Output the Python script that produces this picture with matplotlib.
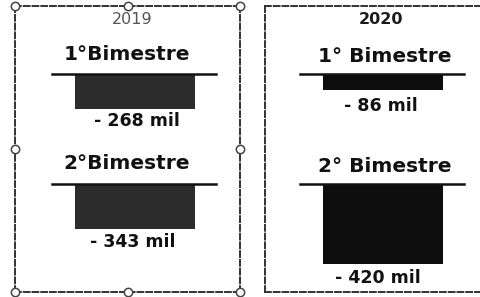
import matplotlib
matplotlib.use("Agg")
import matplotlib.pyplot as plt

# data (thousands of jobs lost)
years = ["2019", "2020"]
period_labels = [["1°Bimestre", "2°Bimestre"], ["1° Bimestre", "2° Bimestre"]]
losses = [[268, 343], [86, 420]]
value_labels = [["- 268 mil", "- 343 mil"], ["- 86 mil", "- 420 mil"]]

W, H = 480, 297
fig = plt.figure(figsize=(W / 100, H / 100), dpi=100)
fig.patch.set_facecolor("white")


def fx(x):
    return x / W


def fy(y):
    return 1 - y / H


def box(x0, y0, x1, y1):
    return [fx(x0), fy(y1), fx(x1) - fx(x0), fy(y0) - fy(y1)]


# panel layout in pixels
panels = [
    dict(frame=(15, 6, 240, 292), line=(52, 216), base=(74, 184), scale=0.13, year_x=132,
         titles=(127, 55, 163), bar_color="#2c2c2c", year_style=dict(color="#555555", fontweight="normal"),
         label_dx=(2, -2), label_dy=(-9, -10), handles=True),
    dict(frame=(265, 6, 490, 292), line=(300, 464), base=(74, 184), scale=0.19, year_x=381,
         titles=(385, 57, 167), bar_color="#0e0e0e", year_style=dict(color="#1a1a1a", fontweight="bold"),
         label_dx=(-2, -5), label_dy=(-11, -10), handles=False),
]

for p, year, periods, vals, vlabels in zip(panels, years, period_labels, losses, value_labels):
    x0, y0, x1, y1 = p["frame"]
    frame = fig.add_axes(box(x0, y0, x1, y1))
    frame.set_xlim(0, 1)
    frame.set_ylim(0, 1)
    frame.set_xticks([])
    frame.set_yticks([])
    frame.patch.set_alpha(0)
    for side in frame.spines.values():
        side.set_linestyle((0, (3, 1.5)))
        side.set_linewidth(1.4)
        side.set_color("#333333")
    if p["handles"]:
        hx = [0, 0.5, 1, 0, 1, 0, 0.5, 1]
        hy = [1, 1, 1, 0.5, 0.5, 0, 0, 0]
        frame.plot(hx, hy, "o", ms=6, mfc="white", mec="#444444", mew=1.1, clip_on=False, zorder=5)

    cx, ty1, ty2 = p["titles"]
    fig.text(fx(p["year_x"]), fy(20), year, ha="center", va="center", fontsize=11.5, **p["year_style"])

    lx0, lx1 = p["line"]
    for title_y, base_y, period, val, vlab, dx, dy in zip((ty1, ty2), p["base"], periods, vals, vlabels,
                                                          p["label_dx"], p["label_dy"]):
        fig.text(fx(cx), fy(title_y), period, ha="center", va="center",
                 fontsize=14.5, fontweight="bold", color="#111111")
        depth_px = 100
        ax = fig.add_axes(box(lx0, base_y, lx1, base_y + depth_px))
        ax.set_xlim(0, 1)
        ax.set_ylim(-depth_px / p["scale"], 0)
        ax.axis("off")
        ax.bar(0.505, -val, width=0.73, bottom=0, color=p["bar_color"], edgecolor="none", zorder=2)
        ax.axhline(0, color="#111111", lw=1.8, zorder=3, clip_on=False)
        ax.annotate(vlab, xy=(0.505, -val), xytext=(dx * 0.72, dy), textcoords="offset points",
                    ha="center", va="center", fontsize=12.5, fontweight="bold", color="#111111",
                    annotation_clip=False)

fig.savefig("out.png", dpi=100, facecolor="white")
